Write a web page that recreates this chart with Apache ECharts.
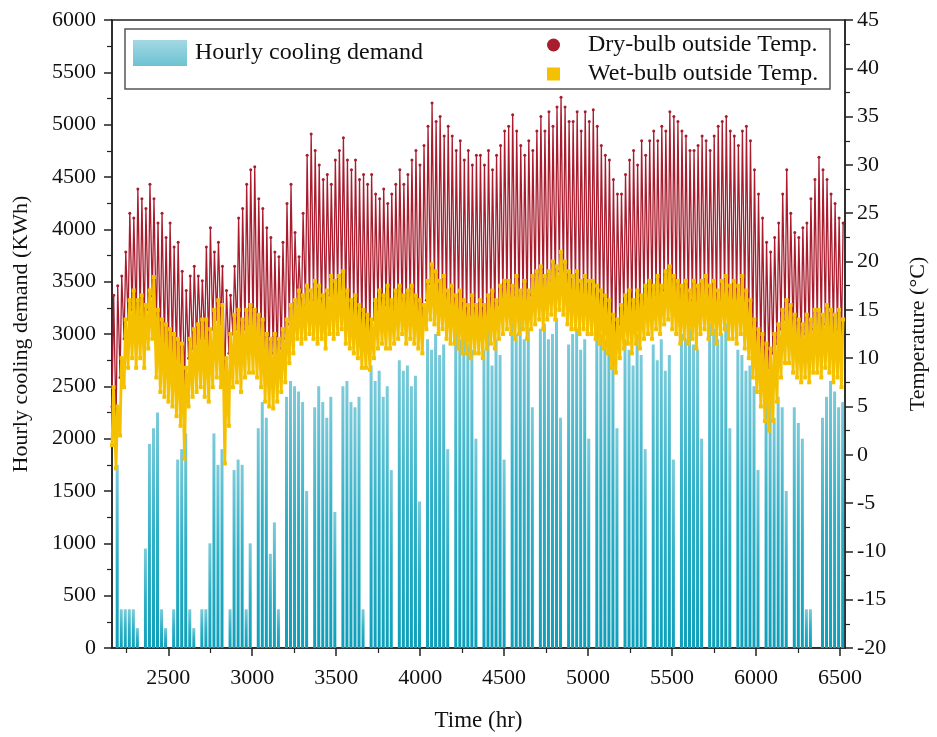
<!DOCTYPE html>
<html><head><meta charset="utf-8">
<script src="https://cdn.jsdelivr.net/npm/echarts@6/dist/echarts.min.js"></script>
<style>html,body{margin:0;padding:0;background:#fff}#c{width:937px;height:737px}</style>
</head><body><div id="c"></div>
<script>
// hour index of the first day shown (day d covers hours startHour+24d .. +24)
const startHour = 2160;
const xTicks = [2500,3000,3500,4000,4500,5000,5500,6000,6500];
const xMinorTicks = [2250,2750,3250,3750,4250,4750,5250,5750,6250];

// daily peak hourly cooling demand (kWh), one value per day
const demandPeak = [
0,1750,370,370,370,370,190,
0,950,1950,2100,2250,370,190,
0,370,1800,1900,2050,370,190,
0,370,370,1000,2050,1750,1900,
0,370,1700,1800,1750,370,1000,
0,2100,2350,2200,900,1200,370,
0,2400,2550,2500,2450,2350,1500,
0,2300,2500,2350,2200,2400,1300,
0,2500,2550,2350,2300,2400,370,
0,2700,2550,2650,2400,2500,1700,
0,2750,2650,2700,2500,2600,1400,
0,2950,2850,3000,2800,2900,1900,
0,3050,2950,3000,2900,2850,2000,
0,2850,3050,2700,2950,2800,1800,
0,3100,3000,3150,2950,3050,2300,
0,3050,3100,2950,3000,3150,2200,
0,2900,3000,3050,2850,2950,2000,
0,3100,3000,2950,3050,2900,2100,
0,2950,2850,2700,3000,2800,1900,
0,2900,2750,2950,2650,2800,1800,
0,3000,2950,3050,2900,2850,2000,
0,3100,3050,2950,3000,3100,2100,
0,2850,2800,2650,2700,2500,1700,
0,2500,2350,2200,2400,2300,1500,
0,2300,2150,2000,370,370,0,
0,2200,2400,2550,2450,2300,2350
];

// daily maximum / minimum dry-bulb temperature (°C)
const dryMax = [
16.5,17.5,18.5,21,25,24.5,27.5,
26.5,25.5,28,26.5,24,25,22.5,
24,21.5,22,19,17,18.5,19.5,
18.5,18,21.5,23.5,21,22,19.5,
17,16.5,19.5,24.5,25.5,28,29.5,
29.8,26.5,25.5,23.5,22.5,21,20.5,
22,26,28,23,20.5,25,31,
33.2,31.5,30,28.5,29,28,30.5,
31.5,32.8,30.5,29.5,30.5,28.5,29,
28,29,27,26.5,27.5,26,27,
28,29.5,28,29,30.5,31.5,30,
32,34,36.4,34.5,35,33,34,
33,31.5,32.5,30.5,31.5,30,31,
31,30,31.5,29.5,31,32,33.5,
34,35.2,33.5,32,31,32.5,31.5,
33.5,35,33.5,35.5,34,36,37,
36,34.5,34.5,35.5,33.5,35.5,34.5,
35.7,34,32,31,30.5,28.5,27,
27,29,30.5,31.5,30,32.5,31,
32.5,33.5,32.5,34,33.5,35.5,35,
34.5,33.5,33,31.5,31.5,32,33,
32.5,31.5,33,34,34.5,35,33.5,
33,32,33.5,34,32.5,29.5,27,
24.5,22,21,22.5,24,27,29.5,
25,23,22.5,23.5,24,26.5,28.5,
30.8,29.5,28.5,27,26,24.5,24
];
const dryMin = [
5,3,8,12,14,15,14,
14.5,13.5,15,16.4,13,12,11.5,
11,10.5,10,9.5,7,10,11,
11.5,12,12,11,13,14,13.5,
8,10.5,12.5,13,12,13,13.5,
13,12.5,12,10.5,10,10.5,10,
11,12,13.5,14,15,14.5,15.5,
15,16,15.5,14.5,15,16.5,16,
16.5,17,15,14,14.5,13.5,13,
12.5,12,14,15,14.5,15.5,14,
15,15.5,14.5,15,15.5,14.5,14,
13.5,16,17.7,17,16,16.5,15,
15.5,14.5,15,14,13.5,14.5,13.5,
14,13.5,14.5,15,14,15.5,16,
16,15.5,16.5,15,16,15,16.5,
17,17.5,16.5,17,18,17.5,19,
18,17,16.5,17,16,16.5,16,
16,15.5,15,14.5,14,12.5,12,
13.5,14.5,15,14,15,14.5,15.5,
16,15.5,16.5,15.5,17,17.5,16.5,
16,15.5,16,15,16,15.5,16,
16.5,15.5,16,15,16,16.5,15.5,
16,15.5,16.5,15,14,12,11,
10.5,9.5,9,10.5,11.5,13,14,
13.5,12.5,12,11.5,12.5,12,13,
13,12.5,13.5,13,12.5,13,12
];

// daily maximum / minimum wet-bulb temperature (°C)
const wetMax = [
7,5,10,14,16,17,16,
16.5,15.5,17,18.4,15,14,13.5,
13,12.5,12,11.5,9,12,13,
13.5,14,14,13,15,16,15.5,
10,12.5,14.5,15,14,15,15.5,
15,14.5,14,12.5,12,12.5,12,
13,14,15.5,16,17,16.5,17.5,
17,18,17.5,16.5,17,18.5,18,
18.5,19,17,16,16.5,15.5,15,
14.5,14,16,17,16.5,17.5,16,
17,17.5,16.5,17,17.5,16.5,16,
15.5,18,19.7,19,18,18.5,17,
17.5,16.5,17,16,15.5,16.5,15.5,
16,15.5,16.5,17,16,17.5,18,
18,17.5,18.5,17,18,17,18.5,
19,19.5,18.5,19,20,19.5,21,
20,19,18.5,19,18,18.5,18,
18,17.5,17,16.5,16,14.5,14,
15.5,16.5,17,16,17,16.5,17.5,
18,17.5,18.5,17.5,19,19.5,18.5,
18,17.5,18,17,18,17.5,18,
18.5,17.5,18,17,18,18.5,17.5,
18,17.5,18.5,17,16,14,13,
12.5,11.5,11,12.5,13.5,15,16,
15.5,14.5,14,13.5,14.5,14,15,
15,14.5,15.5,15,14.5,15,14
];
const wetMin = [
1,-1.4,2,7,9,10,9,
10,9,11,12,8,6.5,6,
5.5,5,4,3,-0.4,5,6,
6.5,7,6,5.5,7,8,7,
-0.9,3,7,7.5,6.5,8,8.5,
8.5,8,7,5.5,5,4.8,5.5,
6.5,7.5,9.5,10.5,12,11.5,12,
12.5,12,11.5,12,11,12.5,12,
12.5,13,11.5,11,10.5,10,9,
9,8.8,10,11,11.5,11,11,
11.5,12,12.5,11.5,12,11.5,11,
10.5,13,14,13.5,12.5,13,12,
11.5,11.5,11,10.5,10.5,10,10.5,
10.5,10,11,11.5,11,12,12.5,
13,12.5,12,12.5,13,12,13,
13.5,14,13,14,14.5,14,15,
14.5,13.5,13,13,12.5,13,12.5,
12.5,12,11.5,11,10.5,9,8.5,
10,11,11.5,10.5,11.5,11,12,
12.5,12,13,12.5,13.5,14,13,
12.5,11.5,12,11.5,12,11,12.5,
13,12,12.5,11.5,12.5,13,12,
12,11.5,12.5,11,10,8,6.5,
5,3.5,2.5,3.5,5.5,8,9.5,
9.5,8.5,8,7.5,8,7.5,8.5,
8.5,8,9,8.5,7.5,8,7
];

const font = "'Liberation Serif','Times New Roman',serif";
const dryColor = '#a81c2e';
const wetColor = '#f4c000';
const plain = v => String(v);

const demandData = demandPeak.map((v, d) => [startHour + 24 * d + 12, v]);
const dryData = [];
dryMax.forEach((mx, d) => {
  dryData.push([startHour + 24 * d + 5, dryMin[d]]);
  dryData.push([startHour + 24 * d + 15, mx]);
});
const wetData = [];
wetMax.forEach((mx, d) => {
  wetData.push([startHour + 24 * d + 5, wetMin[d]]);
  wetData.push([startHour + 24 * d + 14, mx]);
});

const chart = echarts.init(document.getElementById('c'), null, {renderer: 'canvas'});
const axisCol = '#222';
chart.setOption({
  animation: false,
  backgroundColor: '#fff',
  grid: {left: 112, right: 89, top: 20, bottom: 86, show: true, borderColor: axisCol, borderWidth: 1.5, backgroundColor: 'transparent'},
  graphic: [{
    type: 'rect', shape: {x: 125, y: 29, width: 705, height: 60},
    style: {fill: 'none', stroke: '#555', lineWidth: 1.5}, z: 10
  }],
  legend: [{
    left: 128, top: 35, itemWidth: 54, itemHeight: 26,
    textStyle: {fontFamily: font, fontSize: 24, color: '#111', padding: [0, 0, 0, 3]},
    data: [{name: 'Hourly cooling demand', icon: 'rect',
      itemStyle: {color: new echarts.graphic.LinearGradient(0, 0, 0, 1, [{offset: 0, color: '#a3d8e3'}, {offset: 1, color: '#6cc2d3'}])}}]
  }, {
    left: 542, top: 28, orient: 'vertical', itemWidth: 13, itemHeight: 13, itemGap: 5,
    textStyle: {fontFamily: font, fontSize: 24, color: '#111', padding: [0, 0, 0, 23]},
    data: [{name: 'Dry-bulb outside Temp.', icon: 'circle', itemStyle: {color: dryColor}},
           {name: 'Wet-bulb outside Temp.', icon: 'rect', itemStyle: {color: wetColor}}]
  }],
  xAxis: [{
    type: 'value', min: 2165, max: 6530,
    name: 'Time (hr)', nameLocation: 'middle', nameGap: 61,
    nameTextStyle: {fontFamily: font, fontSize: 23, color: '#111'},
    axisLine: {onZero: false, lineStyle: {color: axisCol, width: 1.5}},
    axisTick: {customValues: xTicks, length: 8, lineStyle: {color: axisCol, width: 1.5}},
    axisLabel: {customValues: xTicks, formatter: plain, fontFamily: font, fontSize: 22, color: '#111', margin: 19},
    splitLine: {show: false}
  }, {
    type: 'value', min: 2165, max: 6530, position: 'bottom',
    axisLine: {show: false, onZero: false},
    axisTick: {customValues: xMinorTicks, length: 5, lineStyle: {color: axisCol, width: 1.2}},
    axisLabel: {show: false},
    splitLine: {show: false}
  }],
  yAxis: [{
    type: 'value', min: 0, max: 6000, interval: 500,
    name: 'Hourly cooling demand (KWh)', nameLocation: 'middle', nameGap: 80, nameRotate: 90,
    nameTextStyle: {fontFamily: font, fontSize: 22, color: '#111'},
    axisLine: {show: true, onZero: false, lineStyle: {color: axisCol, width: 1.5}},
    axisTick: {length: 8, lineStyle: {color: axisCol, width: 1.5}},
    minorTick: {show: true, splitNumber: 2, length: 5, lineStyle: {color: axisCol, width: 1.2}},
    axisLabel: {formatter: plain, fontFamily: font, fontSize: 22, color: '#111', margin: 16},
    splitLine: {show: false}
  }, {
    type: 'value', min: -20, max: 45, interval: 5, position: 'right',
    name: 'Temperature (°C)', nameLocation: 'middle', nameGap: 62, nameRotate: 90,
    nameTextStyle: {fontFamily: font, fontSize: 22, color: '#111'},
    axisLine: {show: true, onZero: false, lineStyle: {color: axisCol, width: 1.5}},
    axisTick: {length: 8, lineStyle: {color: axisCol, width: 1.5}},
    minorTick: {show: true, splitNumber: 2, length: 5, lineStyle: {color: axisCol, width: 1.2}},
    axisLabel: {formatter: plain, fontFamily: font, fontSize: 22, color: '#111', margin: 12},
    splitLine: {show: false}
  }],
  series: [{
    name: 'Hourly cooling demand', type: 'bar', xAxisIndex: 0, yAxisIndex: 0,
    data: demandData, barWidth: 3, z: 1,
    itemStyle: {color: new echarts.graphic.LinearGradient(0, 0, 0, 1, [{offset: 0, color: '#7ccbda'}, {offset: 0.5, color: '#2fb0c7'}, {offset: 1, color: '#0e9fba'}])}
  }, {
    name: 'Dry-bulb outside Temp.', type: 'line', xAxisIndex: 0, yAxisIndex: 1,
    data: dryData, showSymbol: true, symbol: 'circle', symbolSize: 3, z: 3,
    itemStyle: {color: dryColor},
    lineStyle: {color: dryColor, width: 1.3}
  }, {
    name: 'Wet-bulb outside Temp.', type: 'line', xAxisIndex: 0, yAxisIndex: 1,
    data: wetData, showSymbol: true, symbol: 'rect', symbolSize: 4, z: 4,
    itemStyle: {color: wetColor},
    lineStyle: {color: wetColor, width: 2.8}
  }]
});
</script>
</body></html>
